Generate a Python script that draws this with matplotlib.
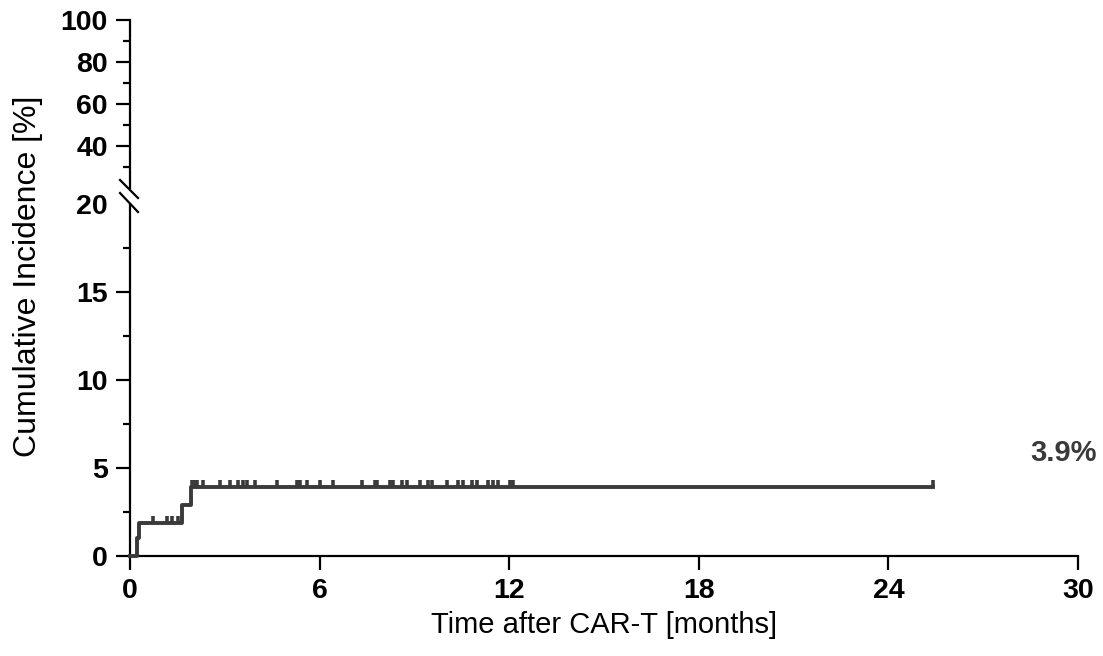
import matplotlib
matplotlib.use("Agg")
import matplotlib.pyplot as plt
from matplotlib.lines import Line2D
import numpy as np

plt.rcParams['font.family'] = ['Liberation Sans', 'DejaVu Sans']

# cumulative incidence step curve (months, %)
step_t = [0, 0.23, 0.30, 1.65, 1.92, 25.4]
step_y = [0, 1.0, 1.9, 2.9, 3.9, 3.9]

# censored observations
cens_low_t = [0.74, 1.16, 1.32, 1.53]
cens_high_t = [1.95, 2.06, 2.13, 2.32, 2.85, 3.16, 3.43, 3.59, 3.69, 3.96,
               4.64, 5.27, 5.38, 5.59, 6.01, 6.43, 7.33, 7.75, 7.81, 8.23,
               8.33, 8.60, 8.76, 9.18, 9.44, 9.55, 10.02, 10.39, 10.55, 10.81,
               10.97, 11.34, 11.50, 11.66, 12.03, 12.13, 25.4]
cens_low_y = 1.9
cens_high_y = 3.9

final_label = '3.9%'
x_ticks = [0, 6, 12, 18, 24, 30]
y_ticks_low = [0, 5, 10, 15, 20]
y_ticks_high = [40, 60, 80, 100]

W, H = 1103, 656
fig = plt.figure(figsize=(W / 100, H / 100), dpi=100)

def fx(px):
    return px / W

def fy(py):
    return 1 - py / H

ax = fig.add_axes([fx(130), fy(556), fx(1078) - fx(130), fy(204) - fy(556)])
ax_top = fig.add_axes([fx(130), fy(188), fx(1078) - fx(130), fy(20) - fy(188)])

col = '#3a3a3a'
ax.step(step_t, step_y, where='post', color=col, lw=2.8, zorder=3, clip_on=False)
cmark = [(0, 0), (0, 1)]
ax.plot(cens_low_t, [cens_low_y] * len(cens_low_t), ls='none', marker=cmark,
        ms=10, mew=2.6, color=col, clip_on=False)
ax.plot(cens_high_t, [cens_high_y] * len(cens_high_t), ls='none', marker=cmark,
        ms=10, mew=2.6, color=col, clip_on=False)
ax.text(29.55, 5.85, final_label, fontsize=21, fontweight='bold', color=col,
        ha='center', va='center')

# bottom axes
ax.set_xlim(0, 30)
ax.set_ylim(0, 20)
ax.set_xticks(x_ticks)
ax.set_yticks(y_ticks_low)
ax.set_yticks([2.5, 7.5, 12.5, 17.5], minor=True)
ax.spines[['top', 'right']].set_visible(False)
for s in ['left', 'bottom']:
    ax.spines[s].set_linewidth(1.6)
ax.tick_params(axis='both', which='major', length=10, width=1.6, labelsize=20.5, pad=6)
ax.tick_params(axis='y', which='minor', length=5, width=1.6)
ax.yaxis.get_major_ticks()[-1].tick1line.set_visible(False)
for lab in ax.get_xticklabels() + ax.get_yticklabels():
    lab.set_fontweight('bold')
ax.set_xlabel('Time after CAR-T [months]', fontsize=21, labelpad=5)

# top axes
ax_top.set_xlim(0, 30)
ax_top.set_ylim(20, 100)
ax_top.set_yticks(y_ticks_high)
ax_top.set_yticks([30, 50, 70, 90], minor=True)
ax_top.set_xticks([])
ax_top.spines[['top', 'right', 'bottom']].set_visible(False)
ax_top.spines['left'].set_linewidth(1.6)
ax_top.tick_params(axis='y', which='major', length=10, width=1.6, labelsize=20.5, pad=6)
ax_top.tick_params(axis='y', which='minor', length=5, width=1.6)
for lab in ax_top.get_yticklabels():
    lab.set_fontweight('bold')
ax_top.patch.set_visible(False)

fig.text(fx(28), fy(276), 'Cumulative Incidence [%]', fontsize=23,
         rotation=90, ha='center', va='center')

# axis break marks
for y0, y1 in [(180, 198), (193, 212)]:
    fig.add_artist(Line2D([fx(120), fx(138)], [fy(y0), fy(y1)],
                          transform=fig.transFigure, color='black', lw=1.6))

fig.savefig('out.png', dpi=100)
